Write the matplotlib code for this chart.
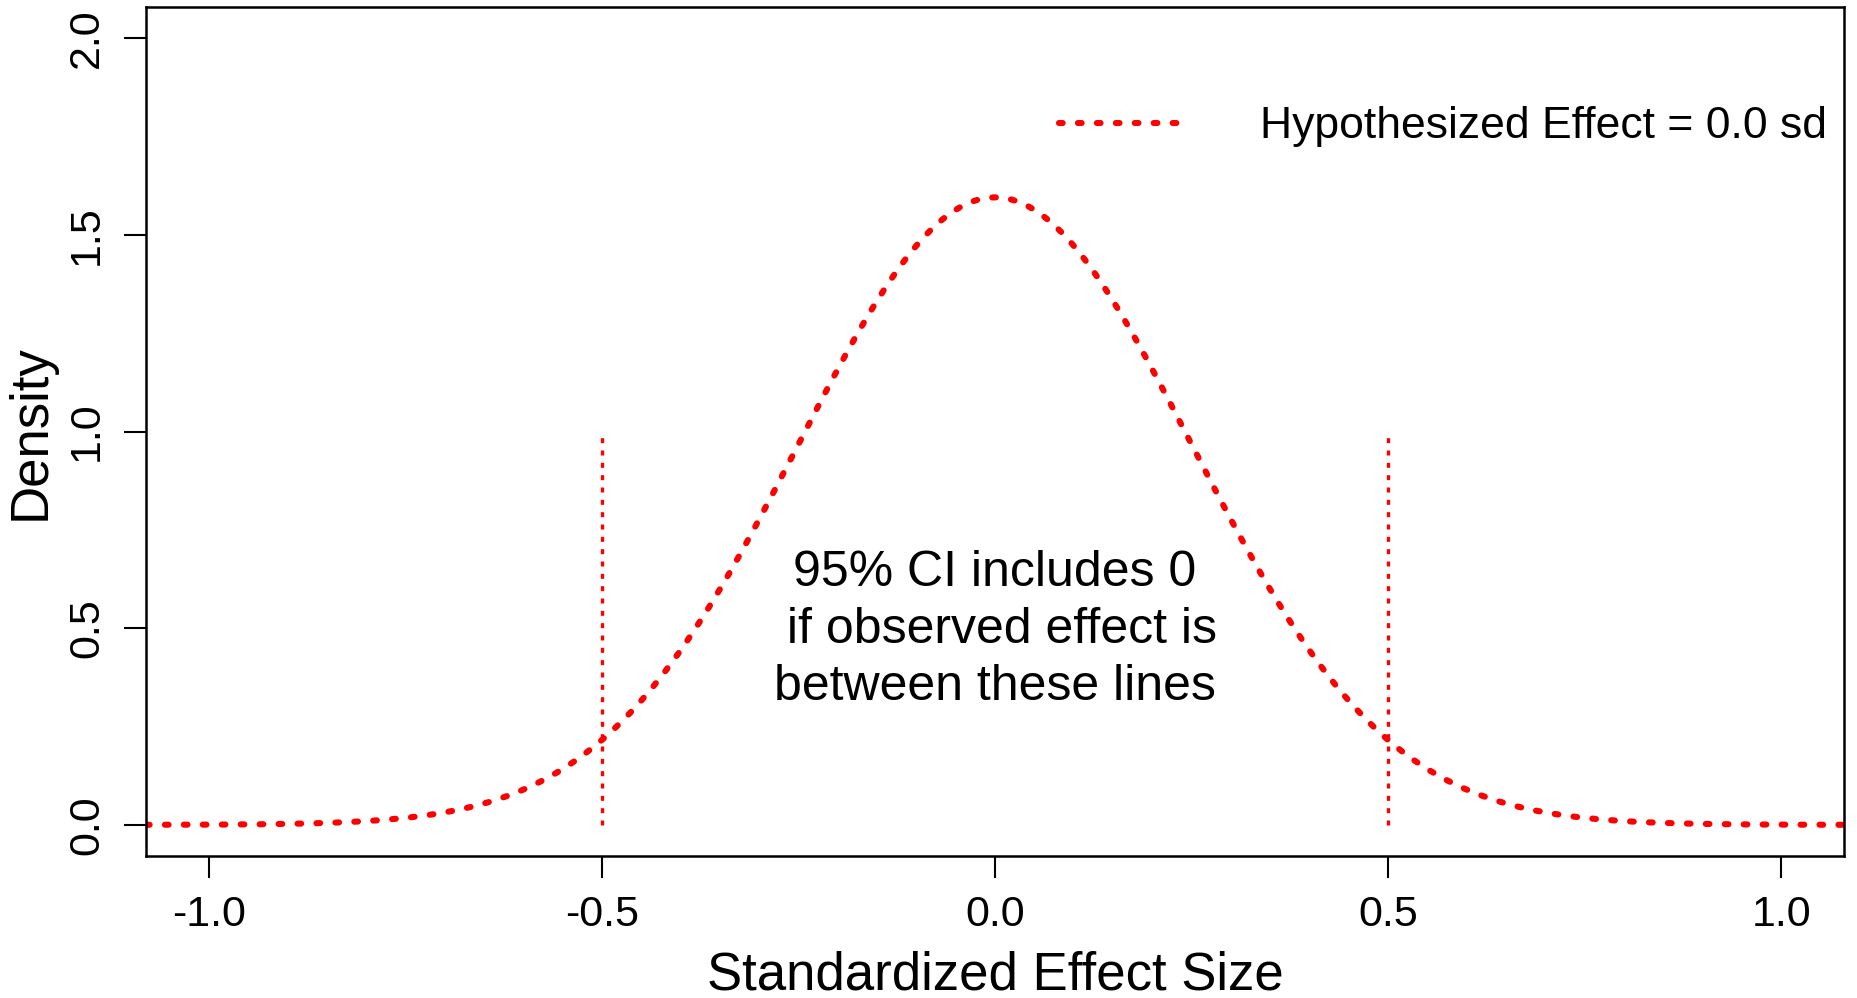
import numpy as np
import matplotlib.pyplot as plt

plt.rcParams['font.family'] = ['Liberation Sans', 'DejaVu Sans']

# sampling distribution of the effect under the hypothesized value
hyp_effect = 0.0
sampling_sd = 0.25
ci_bounds = [-0.5, 0.5]
ci_line_top = 1.0

x_ticks = [-1.0, -0.5, 0.0, 0.5, 1.0]
y_ticks = [0.0, 0.5, 1.0, 1.5, 2.0]

x = np.linspace(-1.08, 1.08, 600)
density = np.exp(-0.5 * ((x - hyp_effect) / sampling_sd) ** 2) / (sampling_sd * np.sqrt(2 * np.pi))

fig = plt.figure(figsize=(18.57, 9.98), dpi=100)
ax = fig.add_axes([0.0786, 0.142, 0.9144, 0.851])

red = '#ff0000'

ax.plot(x, density, color=red, linewidth=4.4, linestyle=(0, (0.6, 2.5)),
        dash_capstyle='round', label='Hypothesized Effect = 0.0 sd')

for b in ci_bounds:
    ax.plot([b, b], [0, ci_line_top], color=red, linewidth=2.4,
            linestyle=(0, (1.5, 2.2)))

ax.text(0.0, 0.495, '95% CI includes 0\n if observed effect is\nbetween these lines',
        ha='center', va='center', fontsize=36, linespacing=1.3)

ax.set_xlim(-1.08, 1.08)
ax.set_ylim(-0.08, 2.08)
ax.set_xticks(x_ticks)
ax.set_xticklabels([f'{v:.1f}' for v in x_ticks])
ax.set_yticks(y_ticks)
ax.set_yticklabels([f'{v:.1f}' for v in y_ticks], rotation=90, va='center')

ax.tick_params(axis='both', labelsize=31, length=16, width=1.5, pad=12)
for s in ax.spines.values():
    s.set_linewidth(1.8)

ax.set_xlabel('Standardized Effect Size', fontsize=38, labelpad=11)
ax.set_ylabel('Density', fontsize=38, labelpad=8)

ax.legend(loc='center right', frameon=False, fontsize=32, handlelength=2.75,
          handletextpad=1.78, bbox_to_anchor=(0.990, 0.859), borderaxespad=0,
          borderpad=0)

fig.savefig('out.png', dpi=100)
